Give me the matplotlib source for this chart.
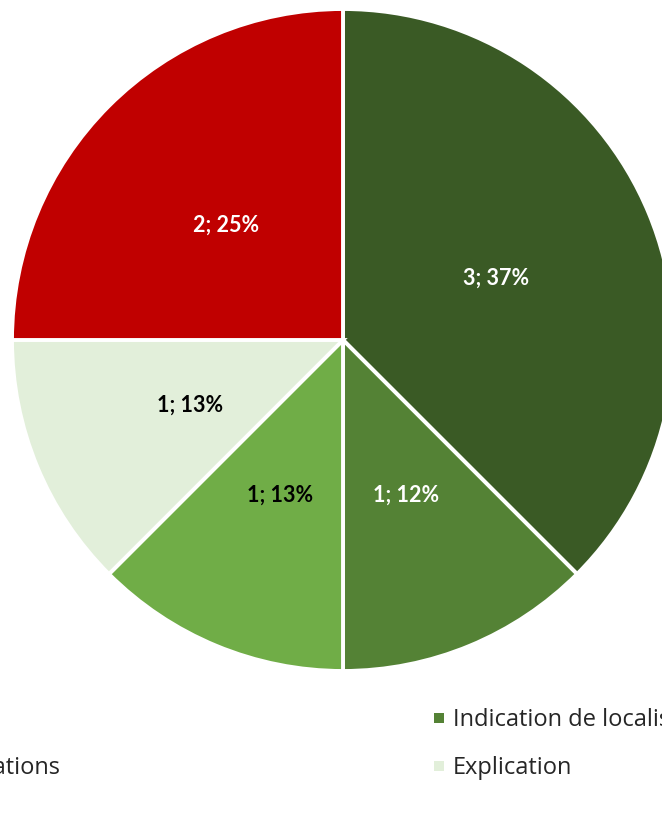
import matplotlib
matplotlib.use("Agg")
import matplotlib.pyplot as plt
from matplotlib.patches import Rectangle

categories = ["Catégorie A", "Indication de localisation", "Informations", "Explication", "Catégorie B"]
values = [3, 1, 1, 1, 2]
pct_labels = [37, 12, 13, 13, 25]
colors = ["#3A5A25", "#548235", "#70AD47", "#E2EFDA", "#C00000"]
label_colors = ["white", "white", "black", "black", "white"]

W, H = 662, 823
fig = plt.figure(figsize=(W / 100, H / 100), dpi=100)
fig.patch.set_facecolor("white")

cx, cy, R = 343, 340, 331
ax = fig.add_axes([(cx - R) / W, (H - cy - R) / H, 2 * R / W, 2 * R / H])
wedges, texts = ax.pie(values, colors=colors, startangle=90, counterclock=False,
                       radius=1,
                       labels=[f"{v}; {p}%" for v, p in zip(values, pct_labels)],
                       labeldistance=0.5,
                       wedgeprops=dict(edgecolor="white", linewidth=2.8),
                       textprops=dict(fontsize=15.5, fontweight="bold", family="Lato",
                                      ha="center", va="center_baseline"))
for t, c in zip(texts, label_colors):
    t.set_color(c)
    t.set_ha("center")
    t.set_va("center_baseline")
ax.set_xlim(-1, 1)
ax.set_ylim(-1, 1)
ax.set_aspect("auto")
ax.axis("off")

# Legend (cropped view): two columns, rows flow left to right
fs = 17
for idx, x, y in [(1, 434, 718), (3, 434, 766)]:
    fig.patches.append(Rectangle((x / W, (H - y - 4.5) / H), 9.5 / W, 9.5 / H,
                                 transform=fig.transFigure, facecolor=colors[idx],
                                 edgecolor="none"))
    fig.text((x + 19) / W, (H - y - 2) / H, categories[idx], fontsize=fs,
             family="Open Sans", va="center", ha="left", color="#262626")
# column 1 entry (mostly cropped, as in the reference)
fig.text(61 / W, (H - 768) / H, categories[2], fontsize=fs,
         family="Open Sans", va="center", ha="right", color="#262626")

fig.savefig("out.png", dpi=100, facecolor="white")
